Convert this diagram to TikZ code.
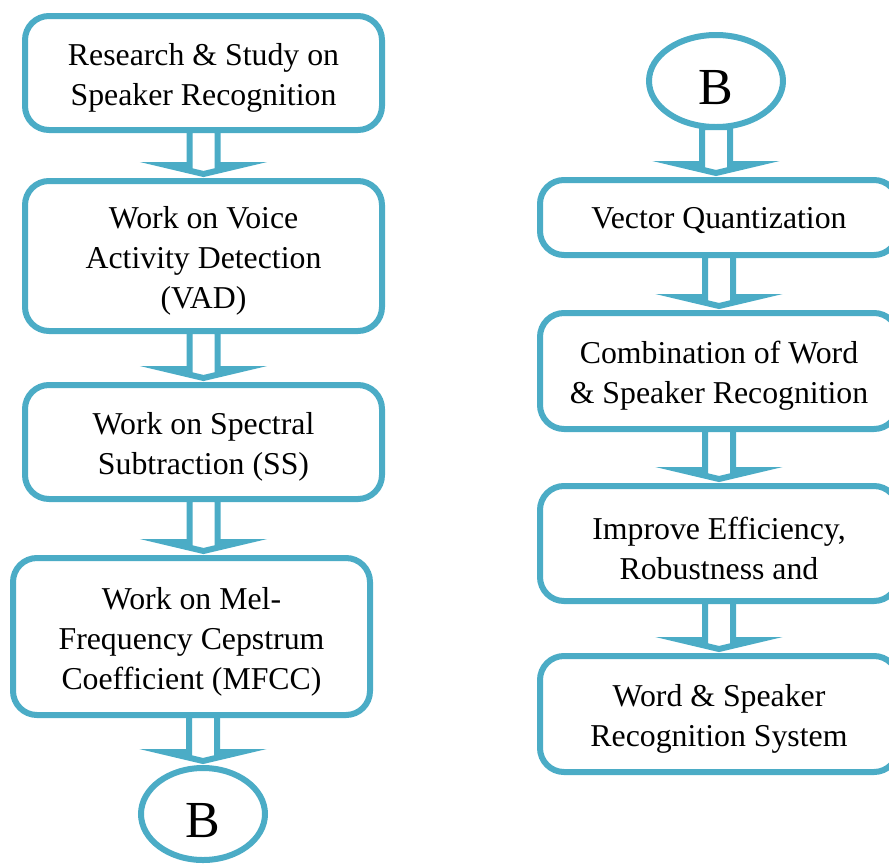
\documentclass[tikz,border=0pt]{standalone}
\usepackage{fontspec}
\setmainfont{Liberation Serif}
\usetikzlibrary{shapes.geometric,calc}
\definecolor{accentfive}{HTML}{4BACC6}
\newcommand\blockarrow[3]{%
  \draw[barrow] let \p1=(#1.south), \p2=(#2.north), \p3=(#3.center) in
    (\x3-14pt,\y1) -- (\x3-14pt,\y2+16pt) -- (\x3-38pt,\y2+16pt) --
    (\x3,\y2+7pt) -- (\x3+38pt,\y2+16pt) -- (\x3+14pt,\y2+16pt) --
    (\x3+14pt,\y1) -- cycle;}
\begin{document}
\begin{tikzpicture}[x=1pt,y=-1pt,
  box/.style={draw=accentfive,line width=6pt,rounded corners=24pt,fill=white,
    minimum width=357pt,outer sep=0pt,inner sep=0pt},
  rbox/.style={box,minimum width=358pt},
  oval/.style={draw=accentfive,line width=6pt,ellipse,fill=white,inner sep=0pt,
    outer sep=0pt},
  txt/.style={align=center,inner sep=0pt,font=\fontsize{31.8}{40}\selectfont},
  btxt/.style={inner sep=0pt,font=\fontsize{52}{52}\selectfont},
  barrow/.style={draw=accentfive,line width=6pt,fill=white,line join=miter}]
\useasboundingbox (0,0) rectangle (889,863);
% left column
\node[box,minimum height=114pt] (b1) at (203.5,73) {};
\node[box,minimum height=150pt] (b2) at (203.5,256) {};
\node[box,minimum height=114pt] (b3) at (203.5,442) {};
\node[box,minimum height=157pt] (b4) at (191.5,636.5) {};
\node[oval,minimum width=124pt,minimum height=92pt] (bb) at (203,814) {};
% right column
\node[oval,minimum width=134pt,minimum height=92pt] (bt) at (716,81) {};
\node[rbox,minimum height=75pt] (r1) at (719,217.5) {};
\node[rbox,minimum height=116pt] (r2) at (719,371) {};
\node[rbox,minimum height=115pt] (r3) at (719,543.5) {};
\node[rbox,minimum height=116pt] (r4) at (719,714) {};
% texts
\node[txt] (t1) at ([yshift=-5pt]b1.center) {Research \& Study on\\Speaker Recognition};
\node[txt] (t2) at ([yshift=-5pt]b2.center) {Work on Voice\\Activity Detection\\(VAD)};
\node[txt] (t3) at ([yshift=-5pt]b3.center) {Work on Spectral\\Subtraction (SS)};
\node[txt] (t4) at ([yshift=-5pt]b4.center) {Work on Mel-\\Frequency Cepstrum\\Coefficient (MFCC)};
\node[btxt] (tb) at ([yshift=-7pt]bb.center) {B};
\node[btxt] (tt) at ([yshift=-7pt]bt.center) {B};
\node[txt] (u1) at ([yshift=-3pt]r1.center) {Vector Quantization};
\node[txt] (u2) at ([yshift=-5pt]r2.center) {Combination of Word\\\& Speaker Recognition};
\node[txt] (u3) at ([yshift=-5pt]r3.center) {Improve Efficiency,\\Robustness and};
\node[txt] (u4) at ([yshift=-5pt]r4.center) {Word \& Speaker\\Recognition System};
% arrows
\blockarrow{b1}{b2}{b1}
\blockarrow{b2}{b3}{b2}
\blockarrow{b3}{b4}{b3}
\blockarrow{b4}{bb}{bb}
\blockarrow{bt}{r1}{bt}
\blockarrow{r1}{r2}{r1}
\blockarrow{r2}{r3}{r2}
\blockarrow{r3}{r4}{r3}
\end{tikzpicture}
\end{document}
